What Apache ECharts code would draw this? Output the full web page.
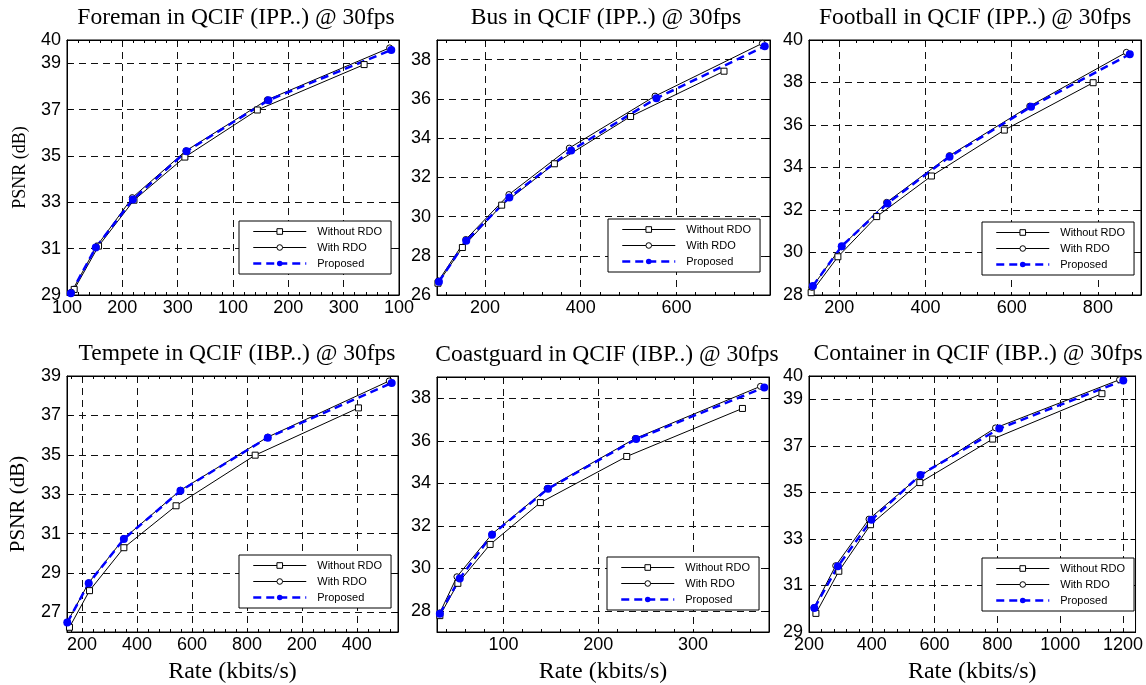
<!DOCTYPE html>
<html>
<head>
<meta charset="utf-8">
<title>PSNR vs Rate</title>
<script src="https://cdn.jsdelivr.net/npm/echarts@6/dist/echarts.min.js"></script>
<style>
    html, body { margin: 0; padding: 0; background: #fff; }
    #chart { width: 1146px; height: 685px; }
</style>
</head>
<body>
<div id="chart"></div>
<script>
// [rate (kbits/s), PSNR (dB)]
const foremanWithout  = [[113, 29.24], [157, 31.11], [221, 33.09], [313, 34.95], [444, 36.98], [637, 38.94]];
const foremanWith     = [[108, 29.12], [153, 31.08], [218, 33.20], [315, 35.22], [462, 37.42], [683, 39.66]];
const foremanProposed = [[107, 29.08], [152, 31.05], [219, 33.12], [316, 35.20], [464, 37.40], [686, 39.57]];

const busWithout  = [[102, 26.60], [153, 28.42], [235, 30.58], [345, 32.69], [504, 35.10], [699, 37.41]];
const busWith     = [[103, 26.72], [160, 28.83], [250, 31.12], [376, 33.49], [555, 36.14], [779, 38.83]];
const busProposed = [[104, 26.68], [161, 28.76], [251, 30.97], [380, 33.37], [558, 36.03], [784, 38.68]];

const footballWithout  = [[135, 28.11], [197, 29.80], [287, 31.69], [414, 33.60], [583, 35.76], [789, 37.99]];
const footballWith     = [[137, 28.36], [205, 30.27], [310, 32.36], [456, 34.56], [642, 36.89], [866, 39.42]];
const footballProposed = [[139, 28.42], [206, 30.30], [312, 32.31], [456, 34.51], [645, 36.86], [874, 39.33]];

const tempeteWithout  = [[154, 26.24], [227, 28.10], [352, 30.28], [542, 32.41], [830, 34.98], [1206, 37.38]];
const tempeteWith     = [[146, 26.50], [224, 28.50], [352, 30.75], [558, 33.20], [876, 35.90], [1318, 38.75]];
const tempeteProposed = [[146, 26.48], [224, 28.47], [352, 30.72], [558, 33.17], [876, 35.87], [1327, 38.64]];

const coastWithout  = [[33, 27.77], [52, 29.29], [86, 31.12], [139, 33.09], [230, 35.26], [352, 37.52]];
const coastWith     = [[33, 27.90], [51, 29.60], [88, 31.61], [146, 33.75], [239, 36.11], [371, 38.56]];
const coastProposed = [[33, 27.86], [54, 29.52], [88, 31.58], [147, 33.74], [240, 36.08], [375, 38.51]];

const containerWithout  = [[222, 29.80], [295, 31.61], [396, 33.61], [553, 35.42], [785, 37.29], [1133, 39.24]];
const containerWith     = [[216, 30.05], [285, 31.85], [391, 33.85], [555, 35.72], [794, 37.77], [1189, 39.84]];
const containerProposed = [[217, 30.03], [292, 31.82], [399, 33.82], [555, 35.75], [806, 37.74], [1201, 39.81]];

const seriesNames = ['Without RDO', 'With RDO', 'Proposed'];

// tick values and the labels printed under them
const foremanXTicks  = [100, 200, 300, 400, 500, 600, 700];
const foremanXLabels = ['100', '200', '300', '100', '200', '300', '100'];
const foremanYTicks  = [29, 31, 33, 35, 37, 39, 40];
const busXTicks      = [200, 400, 600];
const busYTicks      = [26, 28, 30, 32, 34, 36, 38];
const footballXTicks = [200, 400, 600, 800];
const footballYTicks = [28, 30, 32, 34, 36, 38, 40];
const tempeteXTicks  = [200, 400, 600, 800, 1000, 1200];
const tempeteXLabels = ['200', '400', '600', '800', '200', '400'];
const tempeteYTicks  = [27, 29, 31, 33, 35, 37, 39];
const coastXTicks    = [100, 200, 300];
const coastYTicks    = [28, 30, 32, 34, 36, 38];
const containerXTicks = [200, 400, 600, 800, 1000, 1200];
const containerYTicks = [29, 31, 33, 35, 37, 39, 40];

const panels = [
    {title: 'Foreman in QCIF (IPP..) @ 30fps', data: [foremanWithout, foremanWith, foremanProposed],
        x: [100, 700], y: [29, 40], xTicks: foremanXTicks, xLabels: foremanXLabels, yTicks: foremanYTicks, minor: 20,
        box: [67, 40, 332, 255], titleX: 231, legend: [239, 221], yName: 18},
    {title: 'Bus in QCIF (IPP..) @ 30fps', data: [busWithout, busWith, busProposed],
        x: [100, 795], y: [26, 39], xTicks: busXTicks, yTicks: busYTicks, minor: 40,
        box: [437, 40, 333, 255], titleX: 601, legend: [608, 219]},
    {title: 'Football in QCIF (IPP..) @ 30fps', data: [footballWithout, footballWith, footballProposed],
        x: [130, 900], y: [28, 40], xTicks: footballXTicks, yTicks: footballYTicks, minor: 40,
        box: [809, 40, 332, 255], titleX: 970, legend: [982, 222]},
    {title: 'Tempete in QCIF (IBP..) @ 30fps', data: [tempeteWithout, tempeteWith, tempeteProposed],
        x: [145, 1350], y: [26, 39], xTicks: tempeteXTicks, xLabels: tempeteXLabels, yTicks: tempeteYTicks, minor: 40,
        box: [67, 376, 331, 256], titleX: 232, legend: [239, 555], yName: 21, xName: true},
    {title: 'Coastguard in QCIF (IBP..) @ 30fps', data: [coastWithout, coastWith, coastProposed],
        x: [30, 380], y: [27, 39], xTicks: coastXTicks, yTicks: coastYTicks, minor: 20,
        box: [437, 377, 332, 255], titleX: 602, legend: [607, 557], xName: true},
    {title: 'Container in QCIF (IBP..) @ 30fps', data: [containerWithout, containerWith, containerProposed],
        x: [200, 1240], y: [29, 40], xTicks: containerXTicks, yTicks: containerYTicks, minor: 40,
        box: [809, 376, 332, 256], titleX: 973, legend: [982, 558], xName: true}
];

// small in-ticks along the x edges (major + minor)
function edgeTicks(lo, hi, step) {
    let out = [];
    for (let v = Math.ceil(lo / step) * step; v <= hi; v += step) out.push(v);
    return out;
}

const sans = 'Liberation Sans';
const serif = 'Liberation Serif';
const gridDash = {color: '#111', width: 1, type: [7, 5]};

let option = {
    animation: false,
    backgroundColor: '#fff',
    title: [], grid: [], legend: [], xAxis: [], yAxis: [], series: []
};

panels.forEach((p, i) => {
    let [left, top, width, height] = p.box;
    option.grid.push({
        left: left, top: top, width: width, height: height,
        show: true, borderColor: '#000', borderWidth: 1, backgroundColor: '#fff'
    });
    option.title.push({
        text: p.title,
        left: p.titleX,
        top: top - 39,
        textAlign: 'center',
        textStyle: {fontFamily: serif, fontSize: 23.5, fontWeight: 'normal', color: '#000'}
    });
    option.legend.push({
        orient: 'vertical',
        left: p.legend[0], top: p.legend[1],
        data: [
            {name: seriesNames[0], lineStyle: {width: 1}, itemStyle: {borderWidth: 1}},
            {name: seriesNames[1], lineStyle: {width: 1}, itemStyle: {borderWidth: 1}},
            {name: seriesNames[2], lineStyle: {width: 2.5}}
        ],
        itemWidth: 53, itemHeight: 7, itemGap: 5,
        padding: [5, 9, 5, 13],
        backgroundColor: '#fff', borderColor: '#000', borderWidth: 1, borderRadius: 0,
        selectedMode: false,
        textStyle: {fontFamily: sans, fontSize: 11, color: '#000', padding: [0, 0, 0, 6]}
    });

    let xi = option.xAxis.length;
    let yi = option.yAxis.length;
    let labelOf = v => {
        let k = p.xTicks.indexOf(v);
        return p.xLabels && k >= 0 ? p.xLabels[k] : String(v);
    };
    let small = edgeTicks(p.x[0], p.x[1], p.minor);
    // bottom: labels and in-ticks
    option.xAxis.push({
        type: 'value', gridIndex: i, position: 'bottom', min: p.x[0], max: p.x[1],
        name: p.xName ? 'Rate (kbits/s)' : '',
        nameLocation: 'middle', nameGap: 28,
        nameTextStyle: {fontFamily: serif, fontSize: 24, color: '#000'},
        axisLine: {show: true, onZero: false, lineStyle: {color: '#000', width: 1}},
        axisTick: {show: true, inside: true, length: 3, customValues: small, lineStyle: {color: '#000'}},
        axisLabel: {customValues: p.xTicks, formatter: labelOf, margin: 4,
            fontFamily: sans, fontSize: 18, color: '#000'},
        splitLine: {show: false}
    });
    // top: in-ticks
    option.xAxis.push({
        type: 'value', gridIndex: i, position: 'top', min: p.x[0], max: p.x[1],
        axisLine: {show: true, onZero: false, lineStyle: {color: '#000'}},
        axisTick: {show: true, inside: true, length: 3, customValues: small, lineStyle: {color: '#000'}},
        axisLabel: {show: false},
        splitLine: {show: false}
    });
    // vertical dashed grid at the labelled ticks
    option.xAxis.push({
        type: 'value', gridIndex: i, position: 'top', min: p.x[0], max: p.x[1],
        axisLine: {show: false},
        axisTick: {show: false, customValues: p.xTicks},
        axisLabel: {show: false},
        splitLine: {show: true, lineStyle: gridDash}
    });
    option.yAxis.push({
        type: 'value', gridIndex: i, position: 'left', min: p.y[0], max: p.y[1],
        name: p.yName ? 'PSNR (dB)' : '',
        nameLocation: 'middle', nameGap: 38, nameRotate: 90,
        nameTextStyle: {fontFamily: serif, fontSize: p.yName || 18, color: '#000'},
        axisLine: {show: true, onZero: false, lineStyle: {color: '#000'}},
        axisTick: {show: true, inside: true, length: 5, customValues: p.yTicks, lineStyle: {color: '#000'}},
        axisLabel: {customValues: p.yTicks, margin: 6, fontFamily: sans, fontSize: 18, color: '#000'},
        splitLine: {show: true, lineStyle: gridDash}
    });
    option.yAxis.push({
        type: 'value', gridIndex: i, position: 'right', min: p.y[0], max: p.y[1],
        axisLine: {show: true, onZero: false, lineStyle: {color: '#000'}},
        axisTick: {show: true, inside: true, length: 5, customValues: p.yTicks, lineStyle: {color: '#000'}},
        axisLabel: {show: false},
        splitLine: {show: false}
    });

    let common = {type: 'line', xAxisIndex: xi, yAxisIndex: yi, silent: true, z: 3};
    option.series.push(Object.assign({}, common, {
        name: seriesNames[0], data: p.data[0],
        symbol: 'rect', symbolSize: 6,
        color: '#000',
        itemStyle: {color: '#fff', borderColor: '#000', borderWidth: 1},
        lineStyle: {color: '#000', width: 1}
    }));
    option.series.push(Object.assign({}, common, {
        name: seriesNames[1], data: p.data[1],
        symbol: 'circle', symbolSize: 6,
        color: '#000',
        itemStyle: {color: '#fff', borderColor: '#000', borderWidth: 1},
        lineStyle: {color: '#000', width: 1}
    }));
    option.series.push(Object.assign({}, common, {
        name: seriesNames[2], data: p.data[2],
        symbol: 'circle', symbolSize: 8,
        color: '#0000ff',
        itemStyle: {color: '#0000ff', borderWidth: 0},
        lineStyle: {color: '#0000ff', width: 2.5, type: [8, 5]}
    }));
});

let chart = echarts.init(document.getElementById('chart'));
chart.setOption(option);
</script>
</body>
</html>
